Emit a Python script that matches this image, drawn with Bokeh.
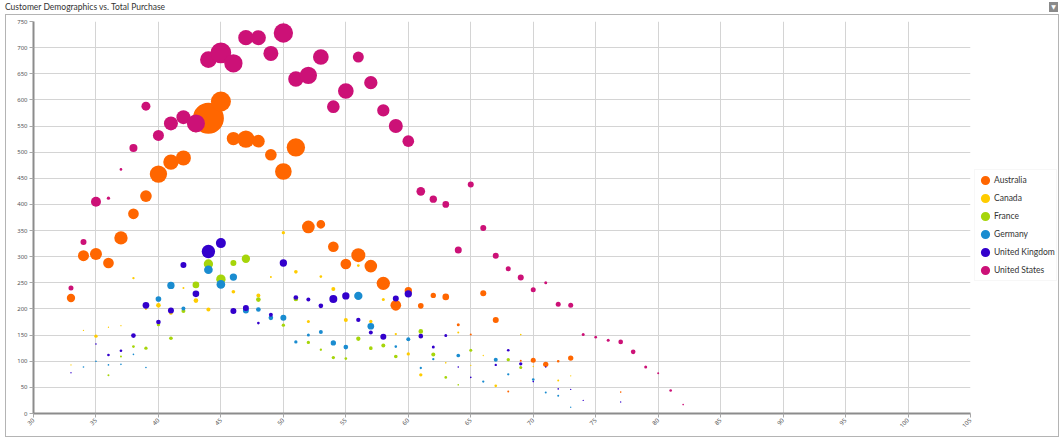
import math
from bokeh.plotting import figure
from bokeh.layouts import column, row
from bokeh.models import (Range1d, FixedTicker, Legend, LegendItem, Div, ColumnDataSource)
from bokeh.embed import file_html
from bokeh.resources import INLINE

countries = ["Australia", "Canada", "France", "Germany", "United Kingdom", "United States"]
colors = ["#FF6600", "#FFCC00", "#A6D50A", "#1A8CD0", "#3300CC", "#CC1177"]

# ---- data: age, total purchase, customer weight ----
au_age = [33, 34, 35, 36, 37, 38, 39, 40, 41, 42, 43, 44, 45, 46, 47, 48, 49, 50, 51, 52, 53, 54, 55, 56, 57,
          58, 59, 60, 61, 62, 63, 64, 65, 66, 67, 68, 69, 70, 71, 72, 73, 77]
au_total = [221, 302, 305, 288, 336, 382, 416, 458, 481, 489, 552, 565, 597, 526, 525, 521, 495, 463, 509, 357,
            362, 319, 286, 303, 282, 249, 207, 235, 206, 226, 223, 170, 151, 230, 179, 42, 101, 102, 94, 100, 106, 41]
au_cust = [25, 33, 36, 32, 40, 32, 35, 52, 46, 45, 44, 93, 60, 40, 52, 38, 35, 50, 55, 38, 26, 32, 32, 42, 38,
           40, 32, 22, 17, 16, 20, 9, 6, 18, 18, 6, 6, 15, 16, 8, 16, 5]

ca_age = [33, 34, 35, 36, 37, 38, 39, 40, 41, 42, 43, 44, 46, 48, 49, 50, 51, 52, 53, 54, 55, 56, 57, 58, 59,
          60, 61, 63, 64, 65, 66, 67, 69, 70, 72, 73]
ca_total = [93, 159, 148, 165, 168, 259, 200, 207, 192, 240, 216, 199, 233, 226, 261, 346, 271, 176, 262, 238,
            179, 283, 176, 218, 152, 114, 74, 97, 155, 92, 111, 53, 151, 90, 63, 72]
ca_cust = [4, 4, 10, 4, 4, 7, 6, 14, 10, 6, 14, 12, 11, 12, 6, 10, 11, 9, 8, 12, 12, 8, 10, 9, 7,
           10, 10, 5, 6, 4, 4, 8, 5, 4, 6, 4]

fr_age = [36, 37, 38, 39, 40, 41, 42, 43, 44, 45, 46, 47, 48, 50, 51, 52, 53, 54, 55, 56, 57, 58, 59, 61, 62,
          63, 64, 65, 68, 69]
fr_total = [73, 109, 128, 125, 170, 144, 196, 246, 286, 257, 288, 296, 218, 169, 219, 136, 122, 107, 105, 143,
            125, 130, 109, 157, 113, 69, 55, 121, 103, 88]
fr_cust = [6, 6, 8, 10, 10, 11, 12, 20, 28, 28, 18, 25, 14, 10, 14, 10, 7, 10, 8, 13, 11, 12, 11, 14, 12,
           8, 5, 9, 10, 9]

de_age = [34, 35, 36, 37, 38, 39, 40, 41, 42, 44, 45, 46, 47, 48, 49, 50, 51, 52, 53, 54, 55, 56, 57, 59, 60,
          61, 62, 64, 66, 67, 68, 70, 71, 72, 73]
de_total = [89, 100, 93, 94, 113, 88, 219, 245, 201, 275, 247, 261, 197, 199, 183, 183, 137, 150, 156, 135,
            127, 225, 167, 128, 142, 87, 104, 111, 61, 103, 75, 65, 40, 34, 12]
de_cust = [5, 5, 5, 5, 5, 5, 17, 22, 12, 26, 26, 22, 18, 14, 14, 18, 10, 9, 12, 16, 14, 25, 20, 8, 12,
           7, 7, 11, 7, 12, 7, 8, 6, 6, 4]

uk_age = [33, 35, 36, 37, 38, 39, 40, 41, 42, 43, 44, 45, 46, 47, 48, 49, 50, 51, 52, 53, 54, 55, 56, 57, 58,
          59, 60, 61, 62, 63, 64, 65, 67, 68, 69, 70, 71, 72, 73, 74, 77]
uk_total = [78, 133, 112, 120, 149, 207, 175, 197, 284, 229, 310, 326, 196, 202, 173, 189, 288, 222, 218, 206,
            219, 225, 179, 155, 147, 220, 229, 148, 127, 149, 89, 69, 93, 121, 95, 61, 89, 47, 46, 25, 22]
uk_cust = [4, 5, 8, 8, 14, 20, 14, 18, 18, 20, 40, 30, 18, 18, 8, 12, 22, 14, 12, 14, 24, 22, 13, 12, 18,
           18, 22, 14, 9, 9, 5, 5, 7, 8, 10, 5, 5, 5, 4, 4, 4]

us_age = [33, 34, 35, 36, 37, 38, 39, 40, 41, 42, 43, 44, 45, 46, 47, 48, 49, 50, 51, 52, 53, 54, 55, 56, 57,
          58, 59, 60, 61, 62, 63, 64, 65, 66, 67, 68, 69, 70, 71, 72, 73, 74, 75, 76, 77, 78, 79, 80, 81, 82]
us_total = [240, 328, 405, 412, 467, 508, 588, 532, 555, 567, 555, 677, 690, 670, 719, 719, 689, 728, 640, 647,
            682, 587, 617, 682, 633, 580, 550, 521, 425, 410, 400, 313, 438, 355, 302, 277, 260, 237, 250, 209,
            207, 151, 146, 140, 137, 118, 89, 77, 44, 17]
us_cust = [15, 18, 30, 10, 8, 24, 27, 33, 42, 42, 54, 50, 62, 55, 46, 45, 45, 58, 46, 52, 47, 38, 47, 33, 40,
           37, 42, 35, 26, 22, 20, 21, 18, 18, 18, 15, 18, 15, 9, 15, 15, 9, 8, 9, 14, 14, 9, 6, 8, 5]

x_ticks = list(range(30, 106, 5))
y_ticks = list(range(0, 751, 50))
title_text = "Customer Demographics vs. Total Purchase"

series = [(au_age, au_total, au_cust), (ca_age, ca_total, ca_cust), (fr_age, fr_total, fr_cust),
          (de_age, de_total, de_cust), (uk_age, uk_total, uk_cust), (us_age, us_total, us_cust)]

# page geometry: header 14px, panel box x 5..1058, y 14..436
OX, OY = 6, 15              # canvas origin on the page (inside 1px border)
PH = 421
RB = 4                      # room right of the frame for the last tick label
MW = 970 - OX + RB          # main chart canvas width (frame ends at page x 970)
LW = 1058 - (OX + MW)       # legend canvas width
FL, FT, FB = 33 - OX, 21 - OY, 413 - OY

p = figure(width=MW, height=PH, x_range=Range1d(30, 105), y_range=Range1d(0, 750),
           output_backend="svg", toolbar_location=None,
           min_border_left=FL, min_border_right=RB, min_border_top=FT, min_border_bottom=PH - FB,
           margin=0)
p.outline_line_color = None
p.background_fill_color = "white"
p.border_fill_color = "white"

for ax in (p.xaxis[0], p.yaxis[0]):
    ax.axis_line_color = "#8c8c8c"
    ax.axis_line_width = 2
    ax.major_tick_line_color = "#a8a8a8"
    ax.major_tick_out = 4
    ax.major_tick_in = 0
    ax.minor_tick_line_color = None
    ax.major_label_text_font_size = "6px"
    ax.major_label_text_color = "#555555"
    ax.major_label_text_font = "Noto Sans"
    ax.major_label_standoff = 2
p.xaxis.ticker = FixedTicker(ticks=x_ticks)
p.yaxis.ticker = FixedTicker(ticks=y_ticks)
p.xaxis.major_label_orientation = math.pi / 4
p.xgrid.ticker = FixedTicker(ticks=x_ticks)
p.ygrid.ticker = FixedTicker(ticks=y_ticks)
for g in (p.xgrid[0], p.ygrid[0]):
    g.grid_line_color = "#d4d4d4"
    g.grid_line_width = 1

sources = []
for col, (ages, totals, cust) in zip(colors, series):
    src = ColumnDataSource(dict(age=ages, total=totals, size=[c / 3.0 for c in cust]))
    sources.append(src)
    p.scatter("age", "total", size="size", source=src, fill_color=col, line_color=None, fill_alpha=1.0)

# legend lives in its own small figure to the right of the plot frame
pl = figure(width=LW, height=PH, x_range=Range1d(0, 1), y_range=Range1d(0, 1),
            output_backend="svg", toolbar_location=None, x_axis_type=None, y_axis_type=None,
            min_border_left=0, min_border_right=0, min_border_top=0, min_border_bottom=0, margin=0)
pl.outline_line_color = None
pl.grid.visible = False
pl.background_fill_color = "white"
pl.border_fill_color = "white"
items = []
for name, col, src in zip(countries, colors, sources):
    r = pl.scatter("age", "total", source=src, fill_color=col, line_color=col, line_width=2, visible=False)
    items.append(LegendItem(label=name, renderers=[r]))
LEG_Y, PAD, ROW = 132, 1, 18
legend = Legend(items=items, location=(0, LEG_Y), orientation="vertical",
                glyph_width=ROW, glyph_height=ROW, label_height=ROW, spacing=0, label_standoff=0,
                padding=PAD, margin=0, label_text_font_size="8.5px", label_text_font="Lato",
                label_text_color="#333333", border_line_color="#f0f0f0",
                background_fill_color="white", background_fill_alpha=1.0, click_policy="none")
pl.add_layout(legend)

header = Div(
    text=('<div style="position:relative;width:1064px;height:14px;">'
          '<span style="position:absolute;left:5px;top:0px;font-family:\'Lato\';font-size:8.5px;'
          'line-height:14px;color:#333333;white-space:nowrap;">' + title_text + '</span>'
          '<span style="position:absolute;left:1049px;top:2px;width:9px;height:10px;background:#8a8a8a;'
          'color:#ffffff;font-family:\'DejaVu Sans\';font-size:6px;line-height:9px;text-align:center;">'
          '&#9660;</span></div>'),
    width=1064, height=14, margin=0)

body = row(p, pl, spacing=0, margin=(0, 0, 0, 5), styles={"border": "1px solid #b4b4b4"})
layout = column(header, body, spacing=0, margin=0)
open("out.html", "w").write(file_html(layout, INLINE))
